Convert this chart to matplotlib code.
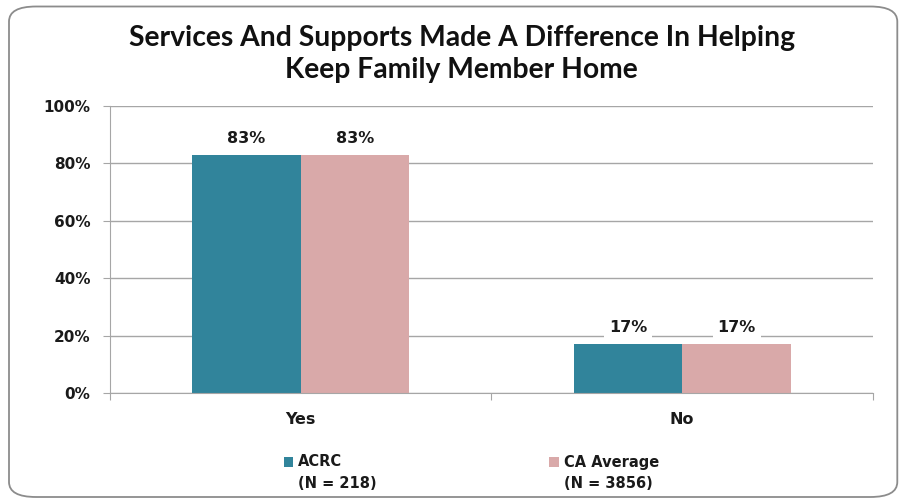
# survey chart: services and supports made a difference
import matplotlib
matplotlib.use('Agg')
import matplotlib.pyplot as plt
from matplotlib.patches import FancyBboxPatch, Rectangle
import numpy as np

categories = ['Yes', 'No']
series_names = ['ACRC\n(N = 218)', 'CA Average\n(N = 3856)']
acrc = [83, 17]
ca_avg = [83, 17]
yticks = [0, 20, 40, 60, 80, 100]
title = 'Services And Supports Made A Difference In Helping\nKeep Family Member Home'

colors = ['#31849B', '#D9A9A9']
grid_c = '#A6A6A6'

fig = plt.figure(figsize=(9, 5), dpi=100)
# rounded frame around the whole chart
frame = FancyBboxPatch((0.01, 0.006), 0.987, 0.981, boxstyle='round,pad=0,rounding_size=0.03',
                       transform=fig.transFigure, fc='none', ec='#8C8C8C', lw=1.3, zorder=-1)
fig.patches.append(frame)

ax = fig.add_axes([0.1222, 0.214, 0.8478, 0.574])
ax.set_facecolor('none')

x = np.arange(len(categories)) + 0.5
w = 0.285
for i, vals in enumerate([acrc, ca_avg]):
	pos = x - w/2 + i*w
	bars = ax.bar(pos, vals, width=w, color=colors[i], zorder=2)
	for b, v in zip(bars, vals):
		ax.text(b.get_x() + b.get_width()/2, v + 5.8, '%d%%' % v, ha='center', va='center',
		        fontsize=11.5, fontweight='bold', color='#1a1a1a', zorder=4,
		        bbox=dict(fc='white', ec='none', pad=3.5))

ax.set_xlim(0, 2)
ax.set_ylim(0, 100)
ax.set_yticks(yticks)
ax.set_yticklabels(['%d%%' % t for t in yticks], fontsize=11, fontweight='bold', color='#1a1a1a')
ax.yaxis.grid(True, color=grid_c, lw=1.0, zorder=0)
ax.set_axisbelow(True)
ax.tick_params(axis='y', length=5, color=grid_c, pad=9)

ax.set_xticks([0, 1, 2])
ax.set_xticklabels([])
ax.set_xticks(x, minor=True)
ax.set_xticklabels(categories, minor=True, fontsize=11.5, fontweight='bold', color='#1a1a1a')
ax.tick_params(axis='x', which='major', length=5, color=grid_c, direction='out')
ax.tick_params(axis='x', which='minor', length=0, pad=14)

for s in ['top', 'right']:
	ax.spines[s].set_visible(False)
for s in ['left', 'bottom']:
	ax.spines[s].set_color(grid_c)

fig.text(0.513, 0.892, title, ha='center', va='center', fontsize=20.3, fontweight='bold',
         family='Lato', linespacing=1.3, color='#111111')

# legend drawn by hand so the square sits on the first line
leg_x = [0.315, 0.61]
for lx, name, c in zip(leg_x, series_names, colors):
	fig.patches.append(Rectangle((lx, 0.066), 0.011, 0.02,
	                             transform=fig.transFigure, fc=c, ec='none'))
	fig.text(lx + 0.0165, 0.091, name, ha='left', va='top', fontsize=10.5, fontweight='bold',
	         color='#1a1a1a', linespacing=1.5, transform=fig.transFigure)

fig.savefig('out.png', dpi=100)
